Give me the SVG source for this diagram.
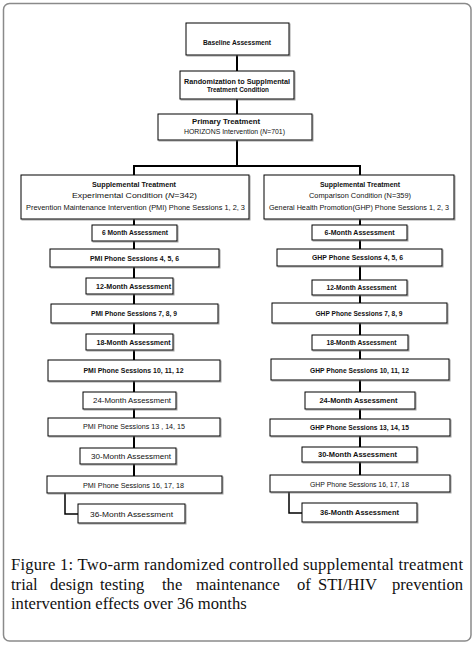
<svg xmlns="http://www.w3.org/2000/svg" width="475" height="647" viewBox="0 0 475 647">
<style>
.bx{fill:#fff;stroke:#000;stroke-width:1;filter:url(#sh)}
.t{font-family:"Liberation Sans",Arial,sans-serif;font-size:7.6px;fill:#111;text-anchor:middle;font-weight:bold}
.r{font-weight:normal}
.c{stroke:#000;stroke-width:2;fill:none}
.e{stroke:#000;stroke-width:1.5;fill:none}
.cap{font-family:"Liberation Serif","Times New Roman",serif;font-size:16.6px;fill:#111}
</style>
<defs>
<filter id="sh" x="-10%" y="-20%" width="120%" height="150%">
<feDropShadow dx="1" dy="1" stdDeviation="0.4" flood-color="#666" flood-opacity="0.6"/>
</filter>
</defs>
<rect x="0" y="0" width="475" height="647" fill="#fff"/>
<rect x="3.5" y="3.5" width="467.5" height="637.5" rx="6" fill="#fff" stroke="#8a8a8a" stroke-width="1.5"/>

<g id="connectors">
<line class="c" x1="237" y1="55" x2="237" y2="71"/>
<line class="c" x1="237" y1="99" x2="237" y2="114"/>
<line class="c" x1="237" y1="140" x2="237" y2="166"/>
<polyline class="c" points="134,175 134,166 360,166 360,175"/>
<line class="c" x1="134" y1="219" x2="134" y2="225"/>
<line class="c" x1="134" y1="241" x2="134" y2="249"/>
<line class="c" x1="134" y1="267" x2="134" y2="278"/>
<line class="c" x1="134" y1="294" x2="134" y2="304"/>
<line class="c" x1="134" y1="323" x2="134" y2="334"/>
<line class="c" x1="134" y1="350" x2="134" y2="360"/>
<line class="c" x1="134" y1="381" x2="134" y2="392"/>
<line class="c" x1="134" y1="409" x2="134" y2="418"/>
<line class="c" x1="134" y1="436" x2="134" y2="448"/>
<line class="c" x1="134" y1="464" x2="134" y2="476"/>
<polyline class="e" points="65,493 65,514 78,514"/>
<line class="c" x1="360" y1="219" x2="360" y2="225"/>
<line class="c" x1="360" y1="240" x2="360" y2="249"/>
<line class="c" x1="360" y1="266" x2="360" y2="280"/>
<line class="c" x1="360" y1="295" x2="360" y2="303"/>
<line class="c" x1="360" y1="323" x2="360" y2="335"/>
<line class="c" x1="360" y1="350" x2="360" y2="359"/>
<line class="c" x1="360" y1="380" x2="360" y2="392"/>
<line class="c" x1="360" y1="409" x2="360" y2="419"/>
<line class="c" x1="360" y1="436" x2="360" y2="447"/>
<line class="c" x1="360" y1="462" x2="360" y2="475"/>
<polyline class="e" points="289,492 289,513 302,513"/>
</g>

<g id="baseline"><rect class="bx" x="186" y="23" width="103" height="32"/><text class="t" x="237" y="44.7" textLength="68" lengthAdjust="spacingAndGlyphs">Baseline Assessment</text></g>
<g id="randomization"><rect class="bx" x="180" y="71" width="114" height="28"/><text class="t" x="237" y="83.7" textLength="106" lengthAdjust="spacingAndGlyphs">Randomization to Supplmental</text><text class="t" x="238" y="92.2" textLength="62" lengthAdjust="spacingAndGlyphs">Treatment Condition</text></g>
<g id="primary"><rect class="bx" x="158" y="114" width="154" height="26"/><text class="t" x="226" y="124.2" textLength="68" lengthAdjust="spacingAndGlyphs">Primary Treatment</text><text class="t r" x="234.5" y="133.7" textLength="101" lengthAdjust="spacingAndGlyphs">HORIZONS Intervention (<tspan font-style="italic">N</tspan>=701)</text></g>

<g id="supp-left"><rect class="bx" x="21" y="175" width="228" height="44"/><text class="t" x="134" y="187.2" textLength="84" lengthAdjust="spacingAndGlyphs">Supplemental Treatment</text><text class="t r" x="134.5" y="198.2" textLength="125" lengthAdjust="spacingAndGlyphs">Experimental Condition (<tspan font-style="italic">N</tspan>=342)</text><text class="t r" x="135.5" y="209.7" textLength="219" lengthAdjust="spacingAndGlyphs">Prevention Maintenance Intervention (PMI) Phone Sessions 1, 2, 3</text></g>
<g id="supp-right"><rect class="bx" x="264" y="175" width="190" height="44"/><text class="t" x="360" y="187.2" textLength="80" lengthAdjust="spacingAndGlyphs">Supplemental Treatment</text><text class="t r" x="360" y="198.2" textLength="102" lengthAdjust="spacingAndGlyphs">Comparison Condition (N=359)</text><text class="t r" x="359" y="209.7" textLength="180" lengthAdjust="spacingAndGlyphs">General Health Promotion(GHP) Phone Sessions 1, 2, 3</text></g>

<g id="l-6m"><rect class="bx" x="92" y="225" width="85" height="16"/><text class="t" x="135" y="235.2" textLength="66" lengthAdjust="spacingAndGlyphs">6 Month Assessment</text></g>
<g id="l-pmi456"><rect class="bx" x="50" y="249" width="169" height="18"/><text class="t" x="134.5" y="260.7" textLength="89" lengthAdjust="spacingAndGlyphs">PMI Phone Sessions 4, 5, 6</text></g>
<g id="l-12m"><rect class="bx" x="86" y="278" width="87" height="16"/><text class="t" x="133.5" y="288.7" textLength="75" lengthAdjust="spacingAndGlyphs">12-Month Assessment</text></g>
<g id="l-pmi789"><rect class="bx" x="51" y="304" width="167" height="19"/><text class="t" x="134" y="316.2" textLength="86" lengthAdjust="spacingAndGlyphs">PMI Phone Sessions 7, 8, 9</text></g>
<g id="l-18m"><rect class="bx" x="86" y="334" width="87" height="16"/><text class="t" x="133.5" y="345.2" textLength="74" lengthAdjust="spacingAndGlyphs">18-Month Assessment</text></g>
<g id="l-pmi101112"><rect class="bx" x="48" y="360" width="172" height="21"/><text class="t" x="133.5" y="373.2" textLength="100" lengthAdjust="spacingAndGlyphs">PMI Phone Sessions  10, 11, 12</text></g>
<g id="l-24m"><rect class="bx" x="83" y="392" width="93" height="17"/><text class="t r" x="132" y="403.2" textLength="78" lengthAdjust="spacingAndGlyphs">24-Month Assessment</text></g>
<g id="l-pmi131415"><rect class="bx" x="48" y="418" width="172" height="18"/><text class="t r" x="134" y="429.2" textLength="102" lengthAdjust="spacingAndGlyphs">PMI Phone Sessions 13 , 14, 15</text></g>
<g id="l-30m"><rect class="bx" x="80" y="448" width="96" height="16"/><text class="t r" x="131" y="458.7" textLength="80" lengthAdjust="spacingAndGlyphs">30-Month Assessment</text></g>
<g id="l-pmi161718"><rect class="bx" x="47" y="476" width="175" height="17"/><text class="t r" x="133.5" y="487.7" textLength="101" lengthAdjust="spacingAndGlyphs">PMI Phone Sessions 16, 17, 18</text></g>
<g id="l-36m"><rect class="bx" x="78" y="504" width="107" height="19"/><text class="t r" x="131.5" y="516.7" textLength="83" lengthAdjust="spacingAndGlyphs">36-Month Assessment</text></g>

<g id="r-6m"><rect class="bx" x="312" y="225" width="95" height="15"/><text class="t" x="359.5" y="235.2" textLength="70" lengthAdjust="spacingAndGlyphs">6-Month Assessment</text></g>
<g id="r-ghp456"><rect class="bx" x="277" y="249" width="165" height="17"/><text class="t" x="357.5" y="260.2" textLength="91" lengthAdjust="spacingAndGlyphs">GHP Phone Sessions 4, 5, 6</text></g>
<g id="r-12m"><rect class="bx" x="312" y="280" width="95" height="15"/><text class="t" x="361.5" y="290.2" textLength="70" lengthAdjust="spacingAndGlyphs">12-Month Assessment</text></g>
<g id="r-ghp789"><rect class="bx" x="272" y="303" width="175" height="20"/><text class="t" x="359" y="316.2" textLength="87" lengthAdjust="spacingAndGlyphs">GHP Phone Sessions 7, 8, 9</text></g>
<g id="r-18m"><rect class="bx" x="312" y="335" width="96" height="15"/><text class="t" x="361.5" y="345.2" textLength="70" lengthAdjust="spacingAndGlyphs">18-Month Assessment</text></g>
<g id="r-ghp101112"><rect class="bx" x="271" y="359" width="178" height="21"/><text class="t" x="359.5" y="373.2" textLength="99" lengthAdjust="spacingAndGlyphs">GHP Phone Sessions 10, 11, 12</text></g>
<g id="r-24m"><rect class="bx" x="305" y="392" width="110" height="17"/><text class="t" x="358.5" y="402.7" textLength="78" lengthAdjust="spacingAndGlyphs">24-Month Assessment</text></g>
<g id="r-ghp131415"><rect class="bx" x="270" y="419" width="180" height="17"/><text class="t" x="359.5" y="429.7" textLength="99" lengthAdjust="spacingAndGlyphs">GHP Phone Sessions 13, 14, 15</text></g>
<g id="r-30m"><rect class="bx" x="302" y="447" width="115" height="15"/><text class="t" x="357.5" y="457.2" textLength="79" lengthAdjust="spacingAndGlyphs">30-Month Assessment</text></g>
<g id="r-ghp161718"><rect class="bx" x="270" y="475" width="180" height="17"/><text class="t r" x="359.5" y="486.7" textLength="99" lengthAdjust="spacingAndGlyphs">GHP Phone Sessions 16, 17, 18</text></g>
<g id="r-36m"><rect class="bx" x="302" y="503" width="115" height="19"/><text class="t" x="359.5" y="515.2" textLength="79" lengthAdjust="spacingAndGlyphs">36-Month Assessment</text></g>

<g id="caption">
<text class="cap" x="11" y="570" textLength="452" lengthAdjust="spacing">Figure 1: Two-arm randomized controlled supplemental treatment</text>
<text class="cap" y="589.5"><tspan x="11">trial</tspan><tspan x="50">design</tspan><tspan x="100">testing</tspan><tspan x="162">the</tspan><tspan x="196">maintenance</tspan><tspan x="297">of</tspan><tspan x="318">STI/HIV</tspan></text>
<text class="cap" x="463" y="589.5" text-anchor="end">prevention</text>
<text class="cap" x="11" y="609">intervention effects over 36 months</text>
</g>
</svg>
